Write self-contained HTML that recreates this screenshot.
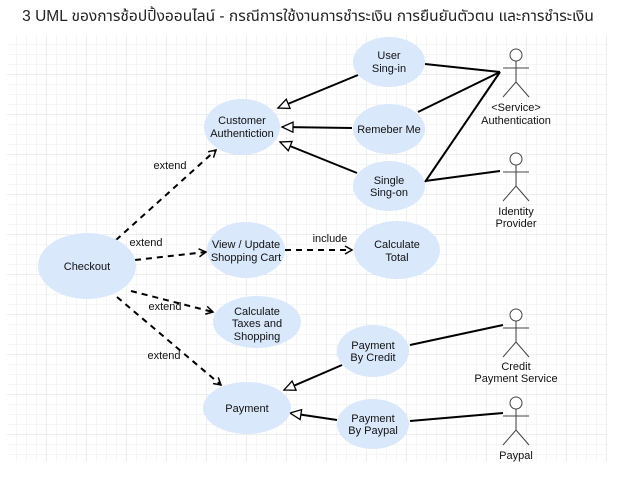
<!DOCTYPE html>
<html><head><meta charset="utf-8"><style>
body{margin:0;background:#fff;width:617px;height:495px;overflow:hidden}
</style></head><body>
<svg width="617" height="495" xmlns="http://www.w3.org/2000/svg" font-family="Liberation Sans, sans-serif">
<defs>
<pattern id="g" width="10" height="10" patternUnits="userSpaceOnUse" x="7" y="35">
<path d="M10 0V10H0" fill="none" stroke="#ececec" stroke-width="1"/></pattern>
<pattern id="G" width="40" height="40" patternUnits="userSpaceOnUse" x="7" y="35">
<path d="M40 0V40H0" fill="none" stroke="#dcdcdc" stroke-width="1"/></pattern>
<marker id="open" markerWidth="10" markerHeight="10" refX="8" refY="5" orient="auto" markerUnits="userSpaceOnUse">
<path d="M1 1L8 5L1 9" fill="none" stroke="#000" stroke-width="1.5"/></marker>
<marker id="tri" markerWidth="14" markerHeight="14" refX="12" refY="6" orient="auto" markerUnits="userSpaceOnUse">
<path d="M1 1L12 6L1 11Z" fill="#fff" stroke="#000" stroke-width="1.3"/></marker>
</defs>
<text x="308" y="21" text-anchor="middle" font-size="15.5" font-family="Liberation Sans, Noto Sans Thai, DejaVu Sans, sans-serif" fill="#222">3 UML ของการช้อปปิ้งออนไลน์ - กรณีการใช้งานการชำระเงิน การยืนยันตัวตน และการชำระเงิน</text>
<rect x="7" y="35" width="600" height="427" fill="url(#g)"/>
<rect x="7" y="35" width="600" height="427" fill="url(#G)"/>
<g stroke="#000" stroke-width="2" fill="none">
<line x1="425" y1="64" x2="500" y2="72"/>
<line x1="418" y1="112" x2="500" y2="72"/>
<line x1="425" y1="182" x2="500" y2="72"/>
<line x1="425" y1="181" x2="500" y2="171"/>
<line x1="410" y1="345" x2="503" y2="325"/>
<line x1="410" y1="421" x2="503" y2="413"/>
<line x1="358" y1="75" x2="278" y2="108" marker-end="url(#tri)"/>
<line x1="352" y1="128" x2="282" y2="127" marker-end="url(#tri)"/>
<line x1="357" y1="173" x2="280" y2="142" marker-end="url(#tri)"/>
<line x1="342" y1="365" x2="284" y2="390" marker-end="url(#tri)"/>
<line x1="337" y1="420" x2="290" y2="413" marker-end="url(#tri)"/>
</g>
<g stroke="#000" stroke-width="2" fill="none" stroke-dasharray="6,5">
<line x1="116" y1="240" x2="216" y2="150" marker-end="url(#open)"/>
<line x1="135" y1="260" x2="206" y2="252" marker-end="url(#open)"/>
<line x1="131" y1="291" x2="213" y2="312" marker-end="url(#open)"/>
<line x1="117" y1="297" x2="221" y2="385" marker-end="url(#open)"/>
<line x1="285" y1="250" x2="352" y2="250" marker-end="url(#open)"/>
</g>
<g fill="#dae8fc">
<ellipse cx="389" cy="62" rx="36" ry="25"/>
<ellipse cx="242" cy="127" rx="38" ry="28"/>
<ellipse cx="389" cy="129" rx="36" ry="25"/>
<ellipse cx="389" cy="186" rx="36" ry="25"/>
<ellipse cx="87" cy="266" rx="49" ry="33"/>
<ellipse cx="246" cy="250" rx="39" ry="28"/>
<ellipse cx="397" cy="250" rx="43" ry="29"/>
<ellipse cx="257" cy="322" rx="44" ry="26"/>
<ellipse cx="373" cy="351" rx="36" ry="26"/>
<ellipse cx="247" cy="408" rx="44" ry="26"/>
<ellipse cx="373" cy="424" rx="36" ry="25"/>
</g>
<g font-size="11" fill="#111" text-anchor="middle">
<text x="389" y="59">User</text><text x="389" y="72">Sing-in</text>
<text x="242" y="124">Customer</text><text x="242" y="137">Authentiction</text>
<text x="389" y="133">Remeber Me</text>
<text x="389" y="184">Single</text><text x="389" y="196">Sing-on</text>
<text x="87" y="270">Checkout</text>
<text x="246" y="248">View / Update</text><text x="246" y="261">Shopping Cart</text>
<text x="397" y="248">Calculate</text><text x="397" y="261">Total</text>
<text x="257" y="315">Calculate</text><text x="257" y="327">Taxes and</text><text x="257" y="340">Shopping</text>
<text x="373" y="349">Payment</text><text x="373" y="361">By Credit</text>
<text x="247" y="412">Payment</text>
<text x="373" y="422">Payment</text><text x="373" y="434">By Paypal</text>
<text x="170" y="169">extend</text>
<text x="146" y="246">extend</text>
<text x="165" y="310">extend</text>
<text x="164" y="359">extend</text>
<text x="330" y="242">include</text>
<text x="516" y="111">&lt;Service&gt;</text><text x="516" y="124">Authentication</text>
<text x="516" y="215">Identity</text><text x="516" y="227">Provider</text>
<text x="516" y="370">Credit</text><text x="516" y="382">Payment Service</text>
<text x="516" y="459">Paypal</text>
</g>
<g stroke="#444" stroke-width="1" fill="#fff">
<g transform="translate(516,55)"><circle r="6" cy="0"/><path d="M0 6V27M-13 13H13M0 27L-13 42M0 27L13 42" fill="none"/></g>
<g transform="translate(516,159)"><circle r="6" cy="0"/><path d="M0 6V27M-13 13H13M0 27L-13 42M0 27L13 42" fill="none"/></g>
<g transform="translate(516,315)"><circle r="6" cy="0"/><path d="M0 6V27M-13 13H13M0 27L-13 42M0 27L13 42" fill="none"/></g>
<g transform="translate(516,403)"><circle r="6" cy="0"/><path d="M0 6V27M-13 13H13M0 27L-13 42M0 27L13 42" fill="none"/></g>
</g>
</svg>
</body></html>
